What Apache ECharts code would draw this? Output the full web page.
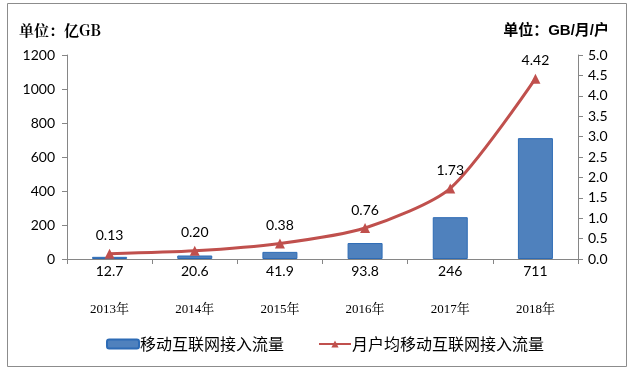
<!DOCTYPE html>
<html><head><meta charset="utf-8">
<script src="https://cdn.jsdelivr.net/npm/echarts@6/dist/echarts.min.js"></script>
<style>html,body{margin:0;padding:0;background:#fff}#c{width:644px;height:372px}</style>
</head><body><div id="c"></div>
<script>
const years = ['2013年','2014年','2015年','2016年','2017年','2018年'];
const traffic = [12.7, 20.6, 41.9, 93.8, 246, 711];
const perUser = [0.13, 0.20, 0.38, 0.76, 1.73, 4.42];
const trafficLabels = ['12.7','20.6','41.9','93.8','246','711'];
const perUserLabels = ['0.13','0.20','0.38','0.76','1.73','4.42'];

const chart = echarts.init(document.getElementById('c'));
const sans = 'Lato, "Noto Sans CJK SC", sans-serif';
chart.setOption({
  animation: false,
  graphic: [{type:'rect', shape:{x:7.5,y:3.5,width:619,height:363}, style:{fill:'none', stroke:'#8c8c8c', lineWidth:1}}],
  title: [
    {text:'单位：亿GB', left:14, top:18, textStyle:{fontSize:15, fontWeight:'bold', color:'#000', fontFamily:'"Noto Serif CJK SC","DejaVu Serif","Noto Sans CJK SC",serif'}},
    {text:'单位：GB/月/户', right:30, top:18, textStyle:{fontSize:15, fontWeight:'bold', color:'#000', fontFamily:'"Liberation Sans","Noto Sans CJK SC",sans-serif'}}
  ],
  legend: {
    top: 331, left: 101,
    itemGap: 34, itemWidth: 32, itemHeight: 9,
    textStyle:{fontSize:16, color:'#000', fontFamily:'"Noto Sans CJK SC",sans-serif', padding:[0,0,0,-4]},
    data:[{name:'移动互联网接入流量'},{name:'月户均移动互联网接入流量'}]
  },
  grid: {left:67, right:66, top:55, bottom:113},
  xAxis: {
    type:'category', data: years, boundaryGap:true,
    axisLine:{lineStyle:{color:'#868686'}},
    axisTick:{show:true, inside:false, length:5, lineStyle:{color:'#868686'}},
    axisLabel:{margin:44, fontSize:13, color:'#000', fontFamily:'"Liberation Serif","Noto Serif CJK SC","Noto Sans CJK SC",serif'}
  },
  yAxis: [
    {type:'value', min:0, max:1200, interval:200,
     axisLine:{show:true, lineStyle:{color:'#868686'}},
     axisTick:{show:true, inside:false, length:5, lineStyle:{color:'#868686'}},
     splitLine:{show:false},
     axisLabel:{fontSize:14, color:'#000', margin:12, fontFamily:sans, formatter:v=>String(v)}},
    {type:'value', min:0, max:5, interval:0.5,
     axisLine:{show:true, lineStyle:{color:'#868686'}},
     axisTick:{show:true, inside:false, length:5, lineStyle:{color:'#868686'}},
     splitLine:{show:false},
     axisLabel:{fontSize:14, color:'#000', margin:10, fontFamily:sans, formatter:v=>v.toFixed(1)}}
  ],
  series: [
    {name:'移动互联网接入流量', type:'bar', yAxisIndex:0, data: traffic, barWidth:35,
     itemStyle:{color:'#4F81BD', borderColor:'#2D6BB5', borderWidth:1},
     label:{show:true, position:'bottom', distance:5, fontSize:14, color:'#000', fontFamily:sans,
       formatter:p=>trafficLabels[p.dataIndex]}},
    {name:'月户均移动互联网接入流量', type:'line', yAxisIndex:1, data: perUser, smooth:0.25,
     symbol:'triangle', symbolSize:10,
     lineStyle:{color:'#C0504D', width:3}, itemStyle:{color:'#C0504D'},
     label:{show:true, position:'top', distance:6, fontSize:14, color:'#000', fontFamily:sans,
       formatter:p=>perUserLabels[p.dataIndex]}}
  ]
});
</script></body></html>
